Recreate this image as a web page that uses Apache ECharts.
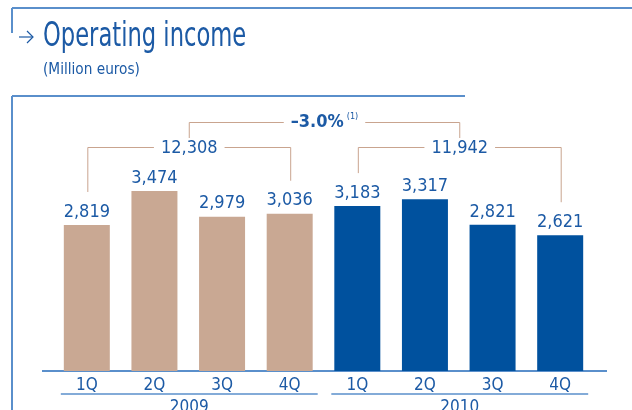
<!DOCTYPE html>
<html><head><meta charset="utf-8">
<script src="https://cdn.jsdelivr.net/npm/echarts@6/dist/echarts.min.js"></script>
<style>html,body{margin:0;padding:0;background:#fff}#c{width:632px;height:410px}</style>
</head><body><div id="c"></div>
<script>
// ---- data ----
const quarters = ['1Q','2Q','3Q','4Q','1Q','2Q','3Q','4Q'];
const years = ['2009','2010'];
const values2009 = [2819, 3474, 2979, 3036];
const values2010 = [3183, 3317, 2821, 2621];
const totalLabels = ['12,308', '11,942'];
const changeLabel = '–3.0%';
const noteLabel = '(1)';
const titleText = 'Operating income';
const subtitleText = '(Million euros)';

// ---- styles ----
const FONT = '"Liberation Sans Narrow","DejaVu Sans Condensed","Roboto Condensed","Liberation Sans",sans-serif';
const TAN = '#c9a893';
const BLUE = '#00519e';
const TXT = '#1c5aa5';
const FRAME = '#5a8fcb';
const BRK = '#c9a48f';

const allValues = values2009.concat(values2010);
const barData = allValues.map((v, i) => ({ value: v, itemStyle: { color: i < values2009.length ? TAN : BLUE } }));

const chart = echarts.init(document.getElementById('c'), null, { renderer: 'canvas' });
chart.setOption({
  animation: false,
  backgroundColor: '#fff',
  grid: { left: 53, right: 38, top: 112, bottom: 39 },
  xAxis: {
    type: 'category', data: quarters,
    axisLine: { show: false }, axisTick: { show: false },
    axisLabel: { color: TXT, fontFamily: FONT, fontSize: 17, margin: 6 }
  },
  yAxis: { type: 'value', min: 0, max: 5000, show: false, splitLine: { show: false } },
  series: [{
    type: 'bar', data: barData, barWidth: 46,
    label: {
      show: true, position: 'top', distance: 4, color: TXT, fontFamily: FONT, fontSize: 18,
      formatter: p => p.value.toLocaleString('en-US')
    }
  }]
});

function px(i, v) { return chart.convertToPixel({ seriesIndex: 0 }, [i, v]); }
const n1 = values2009.length;
const g = [];
function line(x1, y1, x2, y2, color, w) {
  g.push({ type: 'line', shape: { x1, y1, x2, y2 }, style: { stroke: color, lineWidth: w }, silent: true });
}
function text(t, x, y, opts, extra) {
  g.push(Object.assign({ type: 'text', x, y, silent: true, z: 10, style: Object.assign({ text: t, fill: TXT, fontFamily: FONT, align: 'center', verticalAlign: 'middle' }, opts) }, extra || {}));
}

// frames
line(12, 8, 632, 8, FRAME, 2);
line(12, 8, 12, 33, FRAME, 2);
line(12, 96, 465, 96, FRAME, 2);
line(12, 96, 12, 410, FRAME, 2);
// axis baseline
line(42, 371, 607, 371, FRAME, 2);

// title arrow
g.push({ type: 'polyline', shape: { points: [[19, 37], [33, 37]] }, style: { stroke: TXT, lineWidth: 1.2, fill: null }, silent: true });
g.push({ type: 'polyline', shape: { points: [[27, 31], [33, 37], [27, 43]] }, style: { stroke: TXT, lineWidth: 1.2, fill: null }, silent: true });
text(titleText, 43, 37.5, { fontSize: 34, align: 'left' }, { scaleX: 0.74 });
text(subtitleText, 43, 70, { fontSize: 16, align: 'left' }, { scaleX: 0.95 });

// year brackets
const groupCenters = [];
[[0, n1 - 1], [n1, allValues.length - 1]].forEach((grp, k) => {
  const a = px(grp[0], allValues[grp[0]]);
  const b = px(grp[1], allValues[grp[1]]);
  const yH = 147.5;
  const xl = a[0] + 1, xr = b[0] + 1;
  g.push({ type: 'polyline', silent: true, shape: { points: [[xl, a[1] - 33], [xl, yH], [xr, yH], [xr, b[1] - 33]] }, style: { stroke: BRK, lineWidth: 1, fill: null } });
  const cx = (xl + xr) / 2;
  groupCenters.push(cx);
  text(totalLabels[k], cx, yH + 1, { fontSize: 18, backgroundColor: '#fff', padding: [0, 7] });
  // underline + year label
  line(a[0] - 26, 394, b[0] + 28, 394, FRAME, 1.5);
  text(years[k], cx, 408, { fontSize: 17 });
});

// top bracket
const yT = 122.5;
g.push({ type: 'polyline', silent: true, shape: { points: [[groupCenters[0], 138], [groupCenters[0], yT], [groupCenters[1], yT], [groupCenters[1], 138]] }, style: { stroke: BRK, lineWidth: 1, fill: null } });
g.push({ type: 'text', x: (groupCenters[0] + groupCenters[1]) / 2, y: yT, z: 10, silent: true,
  style: { text: '{a|' + changeLabel + '}{b|' + noteLabel + '}', align: 'center', verticalAlign: 'middle', backgroundColor: '#fff', padding: [0, 7],
    rich: { a: { fontFamily: FONT, fontSize: 18, fontWeight: 'bold', fill: TXT, lineHeight: 20 },
            b: { fontFamily: FONT, fontSize: 9, fill: TXT, verticalAlign: 'top', padding: [0, 0, 0, 3] } } } });

chart.setOption({ graphic: g });
</script></body></html>
